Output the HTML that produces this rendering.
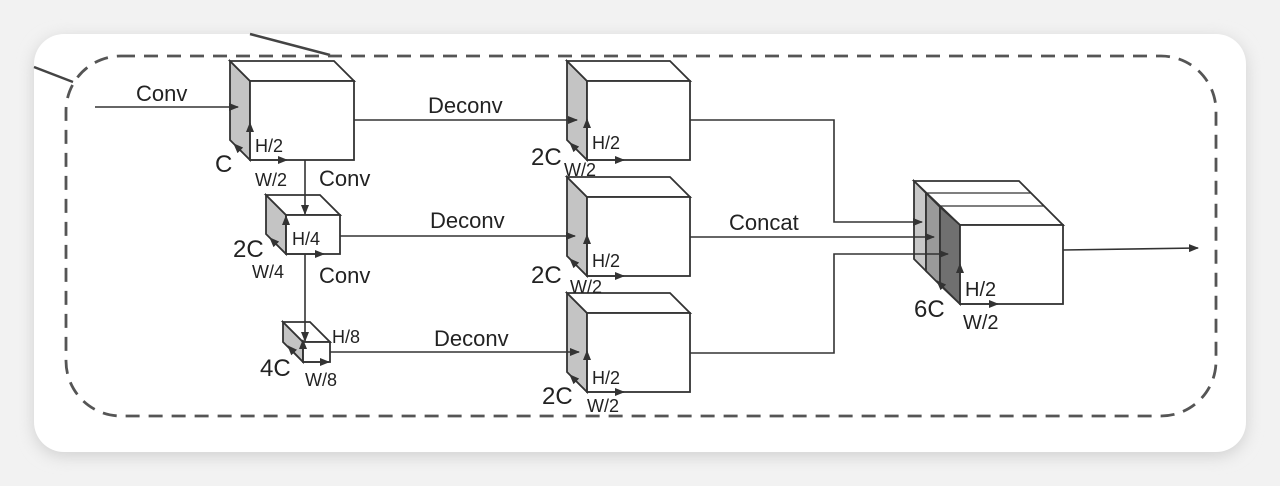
<!DOCTYPE html>
<html><head><meta charset="utf-8"><style>
html,body{margin:0;padding:0;background:#efefef;}
svg{display:block;font-family:"Liberation Sans",sans-serif;}
</style></head><body>
<svg width="1280" height="486" viewBox="0 0 1280 486" xmlns="http://www.w3.org/2000/svg">
<defs>
<marker id="a" markerWidth="10" markerHeight="8" refX="9" refY="4" orient="auto" markerUnits="userSpaceOnUse">
<path d="M0,0 L10,4 L0,8 z" fill="#333"/></marker>
<filter id="sh" x="-5%" y="-10%" width="110%" height="120%"><feGaussianBlur stdDeviation="8"/></filter>
</defs>
<rect x="0" y="0" width="1280" height="486" fill="#f2f2f2"/>
<rect x="34" y="38" width="1212" height="418" rx="30" fill="#d0d0d0" filter="url(#sh)"/>
<rect x="34" y="34" width="1212" height="418" rx="30" fill="#fff"/>
<g stroke="#444" stroke-width="2.5" fill="none">
<line x1="250" y1="34" x2="330" y2="55"/>
<line x1="34" y1="67" x2="73" y2="82"/>
<rect x="66" y="56" width="1150" height="360" rx="55" stroke="#555" stroke-width="2.8" stroke-dasharray="14,9"/>
</g>
<g stroke="#333" stroke-width="1.8">
<polygon points="230,61 250,81 250,160 230,140" fill="#c4c4c4"/>
<polygon points="230,61 334,61 354,81 250,81" fill="#fff"/>
<rect x="250" y="81" width="104" height="79" fill="#fff"/>
<polygon points="266,195 286,215 286,254 266,234" fill="#c4c4c4"/>
<polygon points="266,195 320,195 340,215 286,215" fill="#fff"/>
<rect x="286" y="215" width="54" height="39" fill="#fff"/>
<polygon points="283,322 303,342 303,362 283,342" fill="#c4c4c4"/>
<polygon points="283,322 310,322 330,342 303,342" fill="#fff"/>
<rect x="303" y="342" width="27" height="20" fill="#fff"/>
<polygon points="567,61 587,81 587,160 567,140" fill="#c4c4c4"/>
<polygon points="567,61 670,61 690,81 587,81" fill="#fff"/>
<rect x="587" y="81" width="103" height="79" fill="#fff"/>
<polygon points="567,177 587,197 587,276 567,256" fill="#c4c4c4"/>
<polygon points="567,177 670,177 690,197 587,197" fill="#fff"/>
<rect x="587" y="197" width="103" height="79" fill="#fff"/>
<polygon points="567,293 587,313 587,392 567,372" fill="#c4c4c4"/>
<polygon points="567,293 670,293 690,313 587,313" fill="#fff"/>
<rect x="587" y="313" width="103" height="79" fill="#fff"/>
<polygon points="914,181 1019,181 1063,225 960,225" fill="#fff"/>
<polygon points="914,181 926,193 926,271 914,259" fill="#c8c8c8"/>
<polygon points="926,193 940,207 940,285 926,271" fill="#9a9a9a"/>
<polygon points="940,207 960,225 960,304 940,285" fill="#707070"/>
<line x1="926" y1="193" x2="1031" y2="193" stroke-width="1.2"/>
<line x1="940" y1="206" x2="1044" y2="206" stroke-width="1.2"/>
<rect x="960" y="225" width="103" height="79" fill="#fff"/>
</g>
<g stroke="#333" stroke-width="1.6" fill="none">
<line x1="95" y1="107" x2="238" y2="107" marker-end="url(#a)"/>
<line x1="305" y1="160" x2="305" y2="214" marker-end="url(#a)"/>
<line x1="305" y1="254" x2="305" y2="341" marker-end="url(#a)"/>
<line x1="354" y1="120" x2="577" y2="120" marker-end="url(#a)"/>
<line x1="340" y1="236" x2="575" y2="236" marker-end="url(#a)"/>
<line x1="330" y1="352" x2="579" y2="352" marker-end="url(#a)"/>
<polyline points="690,120 834,120 834,222 922,222" marker-end="url(#a)"/>
<polyline points="690,237 934,237" marker-end="url(#a)"/>
<polyline points="690,353 834,353 834,254 948,254" marker-end="url(#a)"/>
<line x1="1063" y1="250" x2="1198" y2="248" marker-end="url(#a)"/>
</g>
<g stroke="#333" stroke-width="1.5" fill="none">
<line x1="250" y1="160" x2="250" y2="123" marker-end="url(#a)"/>
<line x1="250" y1="160" x2="287" y2="160" marker-end="url(#a)"/>
<line x1="250" y1="160" x2="234" y2="144" marker-end="url(#a)"/>
<line x1="286" y1="254" x2="286" y2="216" marker-end="url(#a)"/>
<line x1="286" y1="254" x2="324" y2="254" marker-end="url(#a)"/>
<line x1="286" y1="254" x2="270" y2="238" marker-end="url(#a)"/>
<line x1="303" y1="362" x2="303" y2="340" marker-end="url(#a)"/>
<line x1="303" y1="362" x2="329" y2="362" marker-end="url(#a)"/>
<line x1="303" y1="362" x2="288" y2="346" marker-end="url(#a)"/>
<line x1="587" y1="160" x2="587" y2="119" marker-end="url(#a)"/>
<line x1="587" y1="160" x2="624" y2="160" marker-end="url(#a)"/>
<line x1="587" y1="160" x2="570" y2="143" marker-end="url(#a)"/>
<line x1="587" y1="276" x2="587" y2="235" marker-end="url(#a)"/>
<line x1="587" y1="276" x2="624" y2="276" marker-end="url(#a)"/>
<line x1="587" y1="276" x2="570" y2="259" marker-end="url(#a)"/>
<line x1="587" y1="392" x2="587" y2="351" marker-end="url(#a)"/>
<line x1="587" y1="392" x2="624" y2="392" marker-end="url(#a)"/>
<line x1="587" y1="392" x2="570" y2="375" marker-end="url(#a)"/>
<line x1="960" y1="304" x2="960" y2="264" marker-end="url(#a)"/>
<line x1="960" y1="304" x2="998" y2="304" marker-end="url(#a)"/>
<line x1="960" y1="304" x2="937" y2="281" marker-end="url(#a)"/>
</g>
<g fill="#222">
<text x="136" y="101" font-size="22">Conv</text>
<text x="428" y="113" font-size="22">Deconv</text>
<text x="430" y="228" font-size="22">Deconv</text>
<text x="434" y="346" font-size="22">Deconv</text>
<text x="729" y="230" font-size="22">Concat</text>
<text x="319" y="186" font-size="22">Conv</text>
<text x="319" y="283" font-size="22">Conv</text>
<text x="255" y="152" font-size="18">H/2</text>
<text x="255" y="186" font-size="18">W/2</text>
<text x="215" y="172" font-size="24">C</text>
<text x="292" y="245" font-size="18">H/4</text>
<text x="252" y="278" font-size="18">W/4</text>
<text x="233" y="257" font-size="24">2C</text>
<text x="332" y="343" font-size="18">H/8</text>
<text x="305" y="386" font-size="18">W/8</text>
<text x="260" y="376" font-size="24">4C</text>
<text x="592" y="149" font-size="18">H/2</text>
<text x="564" y="176" font-size="18">W/2</text>
<text x="531" y="165" font-size="24">2C</text>
<text x="592" y="267" font-size="18">H/2</text>
<text x="570" y="293" font-size="18">W/2</text>
<text x="531" y="283" font-size="24">2C</text>
<text x="592" y="384" font-size="18">H/2</text>
<text x="587" y="412" font-size="18">W/2</text>
<text x="542" y="404" font-size="24">2C</text>
<text x="965" y="296" font-size="20">H/2</text>
<text x="963" y="329" font-size="20">W/2</text>
<text x="914" y="317" font-size="24">6C</text>
</g>
</svg>
</body></html>
